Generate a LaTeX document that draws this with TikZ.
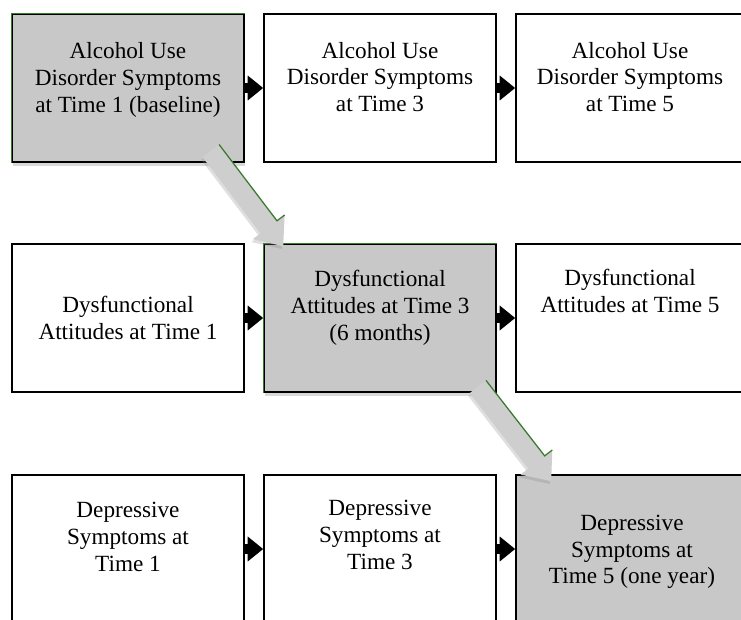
\documentclass[tikz,border=0pt]{standalone}
\usepackage{fontspec}
\setmainfont{Liberation Serif}
\usetikzlibrary{arrows.meta,calc,shadows}

\definecolor{boxgray}{RGB}{200,200,200}
\definecolor{arrowgray}{RGB}{206,206,206}
\definecolor{edgegreen}{RGB}{58,122,44}

\tikzset{
  box/.style={draw, line width=1.1pt, minimum width=5.8cm, minimum height=3.7cm, inner sep=0pt},
  hibox/.style={box, fill=boxgray, drop shadow={shadow xshift=0.5pt, shadow yshift=-2.5pt, opacity=0.3}},
  txt/.style={align=center, inner sep=0pt, font=\fontsize{16.5}{19}\selectfont},
  blk/.style={line width=7.5pt, -{Triangle[width=17pt,length=11pt]}},
  bigarrow/.style={fill=arrowgray, drop shadow={shadow xshift=-1pt, shadow yshift=-2pt, opacity=0.25}},
  greenedge/.style={draw=edgegreen, line width=0.9pt}
}

\begin{document}
\begin{tikzpicture}[x=0.025cm, y=-0.025cm]
                \clip (0,0) rectangle (741,619);

                % top row
                \node[hibox] (aud1) at (128,88) {};
                \node[box] (aud3) at (380,88) {};
                \node[box] (aud5) at (632,88) {};
                \node[txt] (aud1txt) at (128,80) {Alcohol Use\\Disorder Symptoms\\at Time 1 (baseline)};
                \node[txt] (aud3txt) at (380,77) {Alcohol Use\\Disorder Symptoms\\at Time 3};
                \node[txt] (aud5txt) at (630,77) {Alcohol Use\\Disorder Symptoms\\at Time 5};

                % middle row
                \node[box] (att1) at (128,318) {};
                \node[hibox] (att3) at (380,318) {};
                \node[box] (att5) at (632,318) {};
                \node[txt] (att1txt) at (128,318) {Dysfunctional\\Attitudes at Time 1};
                \node[txt] (att3txt) at (380,308) {Dysfunctional\\Attitudes at Time 3\\(6 months)};
                \node[txt] (att5txt) at (630,291) {Dysfunctional\\Attitudes at Time 5};

                % bottom row
                \node[box] (dep1) at (128,549) {};
                \node[box] (dep3) at (380,549) {};
                \node[hibox] (dep5) at (632,549) {};
                \node[txt] (dep1txt) at (128,537) {Depressive\\Symptoms at\\Time 1};
                \node[txt] (dep3txt) at (380,535) {Depressive\\Symptoms at\\Time 3};
                \node[txt] (dep5txt) at (632,552) {Depressive\\Symptoms at\\Time 5 (one year)};

                \draw[greenedge] (aud1.south west) -- (aud1.north west) -- (aud1.north east);
                \draw[greenedge] (att3.south west) -- (att3.north west) -- (att3.north east);

                % black arrows
                \draw[blk] (aud1.east) -- (aud3.west);
                \draw[blk] (aud3.east) -- (aud5.west);
                \draw[blk] (att1.east) -- (att3.west);
                \draw[blk] (att3.east) -- (att5.west);
                \draw[blk] (dep1.east) -- (dep3.west);
                \draw[blk] (dep3.east) -- (dep5.west);

                % gray block arrows
                \coordinate (s1) at ($(aud1.south east)+(-34,-12)$);
                \coordinate (t1) at ($(att3.north west)+(20,3)$);
                \coordinate (b1) at ($(t1)!0.6cm!(s1)$);
                \fill[bigarrow] ($(s1)!0.26cm!90:(t1)$) -- ($(b1)!0.26cm!-90:(s1)$)
                  -- ($(b1)!0.5cm!-90:(s1)$) -- (t1) -- ($(b1)!0.5cm!90:(s1)$)
                  -- ($(b1)!0.26cm!90:(s1)$) -- ($(s1)!0.26cm!-90:(t1)$) -- cycle;
                \draw[greenedge] ($(s1)!0.26cm!90:(t1)$) -- ($(b1)!0.26cm!-90:(s1)$)
                  -- ($(b1)!0.5cm!-90:(s1)$);

                \coordinate (s2) at ($(att3.south east)+(-19,-6)$);
                \coordinate (t2) at ($(dep5.north west)+(36,7)$);
                \coordinate (b2) at ($(t2)!0.6cm!(s2)$);
                \fill[bigarrow] ($(s2)!0.26cm!90:(t2)$) -- ($(b2)!0.26cm!-90:(s2)$)
                  -- ($(b2)!0.5cm!-90:(s2)$) -- (t2) -- ($(b2)!0.5cm!90:(s2)$)
                  -- ($(b2)!0.26cm!90:(s2)$) -- ($(s2)!0.26cm!-90:(t2)$) -- cycle;
                \draw[greenedge] ($(s2)!0.26cm!90:(t2)$) -- ($(b2)!0.26cm!-90:(s2)$)
                  -- ($(b2)!0.5cm!-90:(s2)$);
            \end{tikzpicture}
\end{document}
